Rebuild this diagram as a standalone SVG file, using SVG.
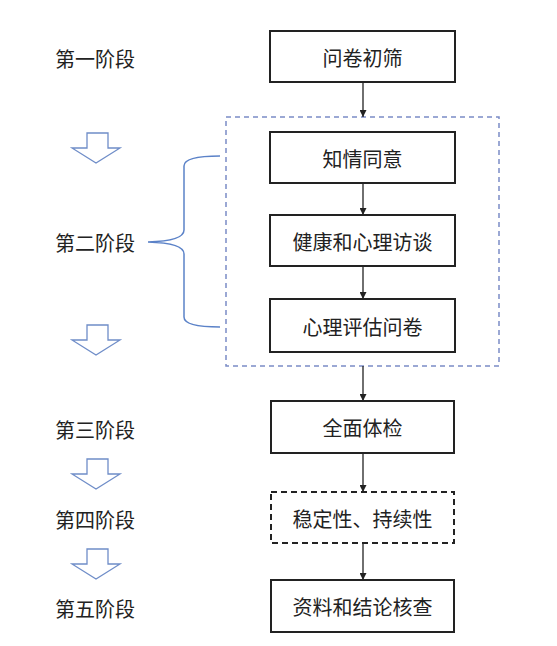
<svg xmlns="http://www.w3.org/2000/svg" width="557" height="646" viewBox="0 0 557 646">
<style>
text{font-family:"Noto Sans CJK SC","Noto Sans",sans-serif;font-size:20px;fill:#222;dominant-baseline:central}
.box{fill:#fff;stroke:#222;stroke-width:2}
.dbox{fill:#fff;stroke:#222;stroke-width:2;stroke-dasharray:6 4}
.grp{fill:none;stroke:#7b8cc6;stroke-width:1.5;stroke-dasharray:5 4}
.con{stroke:#222;stroke-width:1.3;fill:none;marker-end:url(#ah)}
.hol{fill:#fff;stroke:#6f8dc8;stroke-width:1.3}
.brace{fill:none;stroke:#5b82c8;stroke-width:1.5}
</style>
<defs>
<marker id="ah" viewBox="0 0 10 10" refX="10" refY="5" markerWidth="7" markerHeight="7" markerUnits="userSpaceOnUse" orient="auto">
<path d="M0,0 L10,5 L0,10 z" fill="#222"/>
</marker>
<path id="hollow" d="M87,0 H108 V15 H120 L96,30 L72,15 H87 Z"/>
</defs>
<rect width="557" height="646" fill="#fff"/>
<g id="stages">
<text x="55" y="58">第一阶段</text>
<text x="55" y="242">第二阶段</text>
<text x="55" y="429">第三阶段</text>
<text x="55" y="519">第四阶段</text>
<text x="55" y="608">第五阶段</text>
</g>
<g id="stage-arrows">
<use href="#hollow" class="hol" transform="translate(0,133)"/>
<use href="#hollow" class="hol" transform="translate(0,325)"/>
<use href="#hollow" class="hol" transform="translate(0,459)"/>
<use href="#hollow" class="hol" transform="translate(0,549)"/>
</g>
<g id="brace">
<path class="brace" d="M220,156 Q184,156 184,166 V230 Q184,241 148,242 Q184,243 184,254 V317 Q184,327 220,327"/>
</g>
<g id="group2">
<rect class="grp" x="226" y="117" width="273" height="249"/>
</g>
<g id="connectors">
<line class="con" x1="363" y1="82" x2="363" y2="117"/>
<line class="con" x1="363" y1="183" x2="363" y2="215"/>
<line class="con" x1="363" y1="266" x2="363" y2="299"/>
<line class="con" x1="363" y1="366" x2="363" y2="401"/>
<line class="con" x1="363" y1="453" x2="363" y2="492"/>
<line class="con" x1="363" y1="543" x2="363" y2="580"/>
</g>
<g id="n1"><rect class="box" x="270" y="31" width="185" height="51"/><text x="362.5" y="57" text-anchor="middle">问卷初筛</text></g>
<g id="n2"><rect class="box" x="270" y="132" width="185" height="51"/><text x="362.5" y="158" text-anchor="middle">知情同意</text></g>
<g id="n3"><rect class="box" x="270" y="215" width="185" height="51"/><text x="362.5" y="241" text-anchor="middle">健康和心理访谈</text></g>
<g id="n4"><rect class="box" x="270" y="299" width="185" height="53"/><text x="362.5" y="326" text-anchor="middle">心理评估问卷</text></g>
<g id="n5"><rect class="box" x="271" y="401" width="183" height="52"/><text x="362.5" y="427" text-anchor="middle">全面体检</text></g>
<g id="n6"><rect class="dbox" x="271" y="492" width="183" height="51"/><text x="362.5" y="518" text-anchor="middle">稳定性、持续性</text></g>
<g id="n7"><rect class="box" x="271" y="580" width="183" height="52"/><text x="362.5" y="606" text-anchor="middle">资料和结论核查</text></g>
</svg>
